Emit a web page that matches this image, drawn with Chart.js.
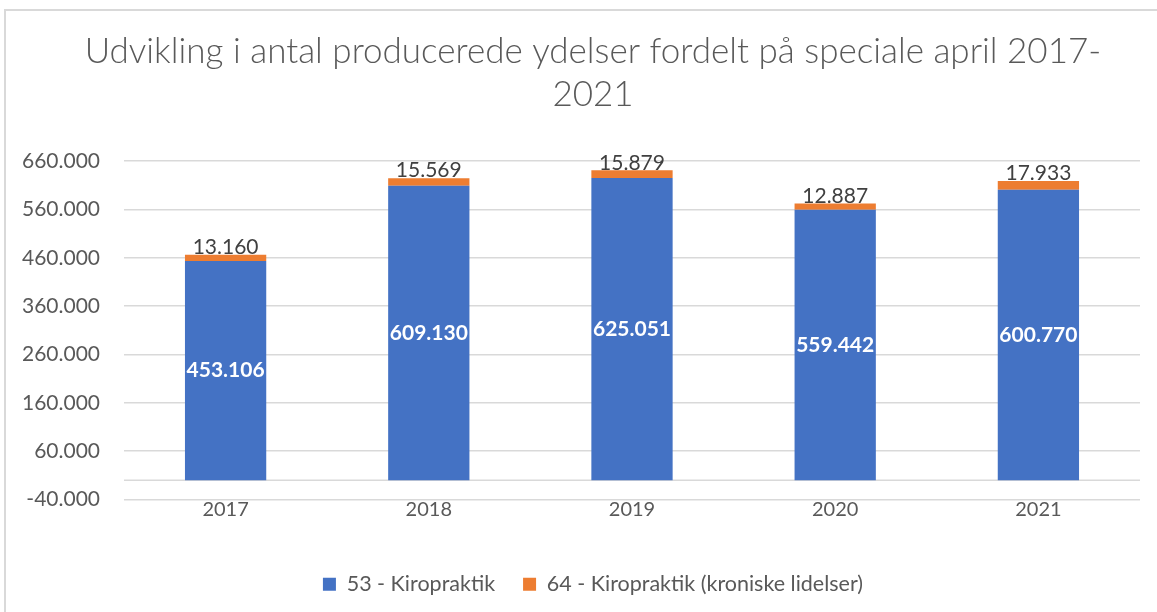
<!DOCTYPE html>
<html>
<head>
<meta charset="utf-8">
<script src="https://cdn.jsdelivr.net/npm/chart.js@4/dist/chart.umd.min.js"></script>
<style>
  html, body { margin: 0; padding: 0; background: #fff; overflow: hidden; }
  #frame { position: absolute; left: 4px; top: 9px; width: 1190px; height: 620px; border: 2px solid #d9d9d9; box-sizing: border-box; }
  #wrap { position: absolute; left: 0; top: 0; width: 1186px; height: 612px; }
</style>
</head>
<body>
<div id="frame"></div>
<div id="wrap"><canvas id="chart"></canvas></div>
<script>
const years = ['2017', '2018', '2019', '2020', '2021'];
const kiropraktik = [453106, 609130, 625051, 559442, 600770];
const kroniske = [13160, 15569, 15879, 12887, 17933];
const seriesNames = ['53 - Kiropraktik', '64 - Kiropraktik (kroniske lidelser)'];
const titleLines = ['Udvikling i antal producerede ydelser fordelt på speciale april 2017-', '2021'];

const fmt = (v) => {
    const neg = v < 0;
    const s = Math.abs(Math.round(v)).toString().replace(/\B(?=(\d{3})+(?!\d))/g, '.');
    return (neg ? '-' : '') + s;
};

const FONT = 'Lato';
const GREY = '#595959';

// zero line + value labels
const labelsPlugin = {
    id: 'labels',
    beforeDatasetsDraw(chart) {
        const { ctx, chartArea, scales } = chart;
        const y0 = scales.y.getPixelForValue(0);
        ctx.save();
        ctx.strokeStyle = '#d9d9d9';
        ctx.lineWidth = 1.5;
        ctx.beginPath();
        ctx.moveTo(chartArea.left, y0);
        ctx.lineTo(chartArea.right, y0);
        ctx.stroke();
        ctx.restore();
    },
    afterDatasetsDraw(chart) {
        const { ctx } = chart;
        const m0 = chart.getDatasetMeta(0);
        const m1 = chart.getDatasetMeta(1);
        ctx.save();
        ctx.textAlign = 'center';
        m0.data.forEach((bar, i) => {
            ctx.fillStyle = '#fff';
            ctx.font = 'bold 21px ' + FONT;
            ctx.textBaseline = 'middle';
            ctx.fillText(fmt(kiropraktik[i]), bar.x, (bar.y + bar.base) / 2);
        });
        m1.data.forEach((bar, i) => {
            ctx.fillStyle = '#404040';
            ctx.font = '21px ' + FONT;
            ctx.textBaseline = 'bottom';
            ctx.fillText(fmt(kroniske[i]), bar.x, bar.y + 3);
        });
        ctx.restore();
    },
};

new Chart(document.getElementById('chart'), {
    type: 'bar',
    data: {
        labels: years,
        datasets: [
            { label: seriesNames[0], data: kiropraktik, backgroundColor: '#4472C4' },
            { label: seriesNames[1], data: kroniske, backgroundColor: '#ED7D31' },
        ],
    },
    options: {
        responsive: true,
        maintainAspectRatio: false,
        animation: false,
        datasets: { bar: { barPercentage: 0.4, categoryPercentage: 1 } },
        layout: { padding: { left: 0, right: 0, top: 30, bottom: 7 } },
        plugins: {
            title: {
                display: true,
                text: titleLines,
                color: GREY,
                font: { family: FONT, size: 35, weight: '300', lineHeight: 1.23 },
                padding: { top: 0, bottom: 45 },
            },
            legend: {
                position: 'bottom',
                labels: {
                    color: GREY,
                    font: { family: FONT, size: 21.5 },
                    boxWidth: 13,
                    boxHeight: 13,
                    padding: 28,
                },
            },
            tooltip: { enabled: false },
        },
        scales: {
            x: {
                stacked: true,
                grid: { display: false, drawTicks: false },
                border: { display: false },
                ticks: { color: GREY, font: { family: FONT, size: 20 }, padding: -2 },
                afterFit: (scale) => { scale.height += 26; },
            },
            y: {
                stacked: true,
                min: -40000,
                max: 660000,
                grid: { color: '#d9d9d9', lineWidth: 1.5, drawTicks: false },
                border: { display: false },
                ticks: {
                    stepSize: 100000,
                    color: GREY,
                    font: { family: FONT, size: 21 },
                    padding: 24,
                    callback: (v) => fmt(v),
                },
                afterFit: (scale) => { scale.width = 124; },
            },
            // empty right-hand axis, only reserves the margin on the right
            yRight: {
                position: 'right',
                grid: { display: false, drawTicks: false },
                border: { display: false },
                ticks: { display: false },
                afterFit: (scale) => { scale.width = 46; },
            },
        },
    },
    plugins: [labelsPlugin],
});
</script>
</body>
</html>
